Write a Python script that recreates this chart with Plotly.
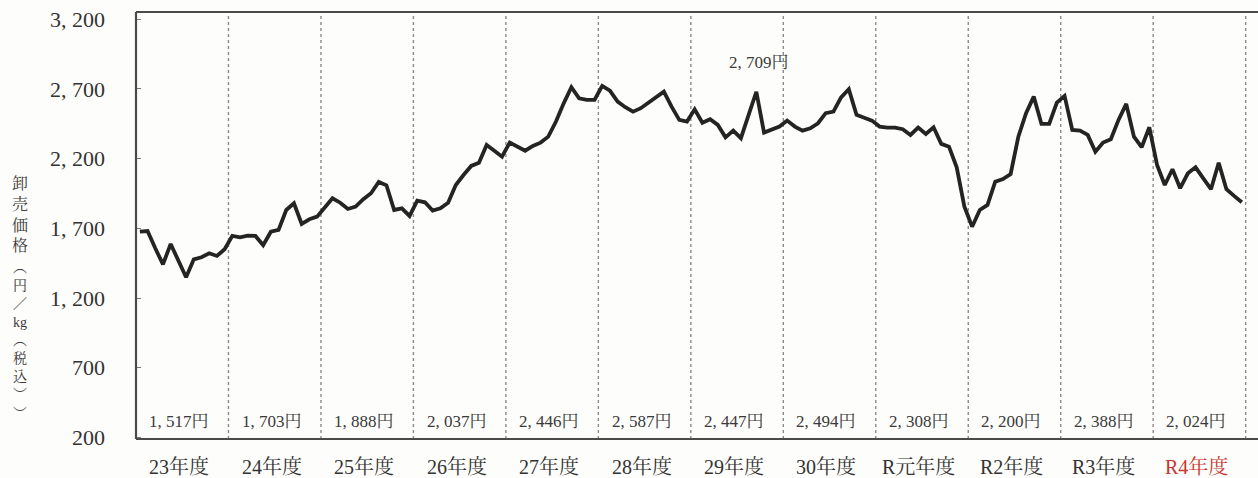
import plotly.graph_objects as go

years = ["23年度", "24年度", "25年度", "26年度", "27年度", "28年度",
         "29年度", "30年度", "R元年度", "R2年度", "R3年度", "R4年度"]
averages = [1517, 1703, 1888, 2037, 2446, 2587, 2447, 2494, 2308, 2200, 2388, 2024]

prices = [
    # 23年度
    1676, 1681, 1557, 1442, 1588, 1461, 1349, 1478, 1493, 1521, 1502, 1550,
    # 24年度
    1646, 1636, 1648, 1646, 1579, 1676, 1689, 1832, 1880, 1732, 1765, 1784,
    # 25年度
    1851, 1916, 1884, 1839, 1856, 1909, 1952, 2033, 2009, 1832, 1844, 1789,
    # 26年度
    1899, 1887, 1827, 1844, 1884, 2011, 2083, 2148, 2171, 2298, 2257, 2214,
    # 27年度
    2315, 2286, 2257, 2291, 2315, 2358, 2466, 2597, 2712, 2633, 2621, 2621,
    # 28年度
    2722, 2688, 2609, 2569, 2537, 2562, 2602, 2645, 2681, 2573, 2478, 2466,
    # 29年度
    2554, 2458, 2483, 2442, 2353, 2401, 2347, 2514, 2680, 2387, 2411, 2430,
    # 30年度
    2473, 2430, 2401, 2418, 2454, 2526, 2537, 2640, 2698, 2514, 2494, 2473,
    # R元年度
    2430, 2423, 2423, 2411, 2370, 2423, 2377, 2425, 2306, 2286, 2138, 1856,
    # R2年度
    1712, 1832, 1868, 2035, 2054, 2090, 2358, 2526, 2645, 2449, 2449, 2602,
    # R3年度
    2650, 2406, 2401, 2370, 2250, 2315, 2339, 2478, 2593, 2358, 2282, 2425,
    # R4年度
    2155, 2011, 2124, 1988, 2095, 2138, 2059, 1981, 2171, 1981, 1933, 1887,
]

y_ticks = [200, 700, 1200, 1700, 2200, 2700, 3200]
y_tick_text = ["200", "700", "1, 200", "1, 700", "2, 200", "2, 700", "3, 200"]

peak_index = 80
peak_text = "2, 709円"

title_top = ["卸", "売", "価", "格"]
title_bottom = ["︵", "円", "／", "kg", "︵", "税", "込", "︶", "︶"]

months = list(range(len(prices)))

SERIF = "Liberation Serif, Noto Serif CJK JP, Noto Sans CJK JP, serif"

W, H = 1258.0, 478.0
ML, MT, MB = 136.0, 12.0, 39.0
plot_w = W - ML
plot_h = H - MT - MB


def fmt(v):
    return f"{v:,}".replace(",", ", ")


def py(pixel_y):
    return (H - MB - pixel_y) / plot_h


def px(pixel_x):
    return (pixel_x - ML) / plot_w


fig = go.Figure()
fig.add_trace(go.Scatter(
    x=months, y=prices, mode="lines",
    line=dict(color="#242424", width=3.8),
    hoverinfo="skip", showlegend=False,
))

n_years = len(years)
year_centers = [12 * k + 5.5 for k in range(n_years)]

shapes = []
for k in range(n_years):
    xv = 12 * k + 11.5
    shapes.append(dict(type="line", xref="x", yref="paper", x0=xv, x1=xv, y0=0, y1=1,
                       line=dict(color="#8a8a8a", width=1.4, dash="dot"), layer="below"))
frame = dict(color="#4a4a4a", width=2.2)
shapes.append(dict(type="line", xref="paper", yref="paper", x0=0, x1=0, y0=0, y1=1, line=frame))
shapes.append(dict(type="line", xref="paper", yref="paper", x0=0, x1=1, y0=1, y1=1, line=frame))
shapes.append(dict(type="line", xref="paper", yref="paper", x0=0, x1=1, y0=0, y1=0, line=frame))

annotations = []
for k, avg in enumerate(averages):
    annotations.append(dict(
        x=year_centers[k] - 0.4, y=py(421), xref="x", yref="paper",
        xanchor="center", yanchor="middle",
        text=f"{fmt(avg)}円", showarrow=False,
        font=dict(family=SERIF, size=17, color="#3a3a3a"),
    ))

for k, name in enumerate(years):
    color = "#c8372d" if name == "R4年度" else "#333333"
    annotations.append(dict(
        x=year_centers[k] - 0.4, y=py(466), xref="x", yref="paper",
        xanchor="center", yanchor="middle", text=name, showarrow=False,
        font=dict(family=SERIF, size=20, color=color),
    ))

annotations.append(dict(
    x=peak_index + 0.3, y=py(62), xref="x", yref="paper",
    xanchor="center", yanchor="middle",
    text=peak_text, showarrow=False,
    font=dict(family=SERIF, size=17, color="#3a3a3a"),
))

# vertical y-axis title in two stacked blocks
annotations.append(dict(
    x=px(20), y=py(214), xref="paper", yref="paper",
    xanchor="center", yanchor="middle", borderpad=0,
    text="<br>".join(title_top), showarrow=False,
    font=dict(family=SERIF, size=16, color="#3a3a3a"),
))
annotations.append(dict(
    x=px(20), y=py(340), xref="paper", yref="paper",
    xanchor="center", yanchor="middle", borderpad=0,
    text="<br>".join(title_bottom), showarrow=False,
    font=dict(family=SERIF, size=14, color="#3a3a3a"),
))

fig.update_layout(
    width=int(W), height=int(H),
    margin=dict(l=int(ML), r=0, t=int(MT), b=int(MB), autoexpand=False),
    paper_bgcolor="#fdfdfb",
    plot_bgcolor="#fdfdfb",
    shapes=shapes,
    annotations=annotations,
    xaxis=dict(
        range=[-0.5, 145.1], showgrid=False, zeroline=False, showline=False,
        showticklabels=False, ticks="", automargin=False, fixedrange=True,
    ),
    yaxis=dict(
        range=[189, 3252], showgrid=False, zeroline=False, showline=False,
        tickmode="array", tickvals=y_ticks, ticktext=y_tick_text,
        ticks="inside", ticklen=5, tickcolor="#777777", tickwidth=1.2,
        ticklabelstandoff=30, automargin=False,
        tickfont=dict(family=SERIF, size=22, color="#333333"),
        fixedrange=True,
    ),
)

fig.write_html(
    "out.html",
    config={"displayModeBar": False},
    post_script="document.body.style.margin='0';document.body.style.background='#fdfdfb';",
)
